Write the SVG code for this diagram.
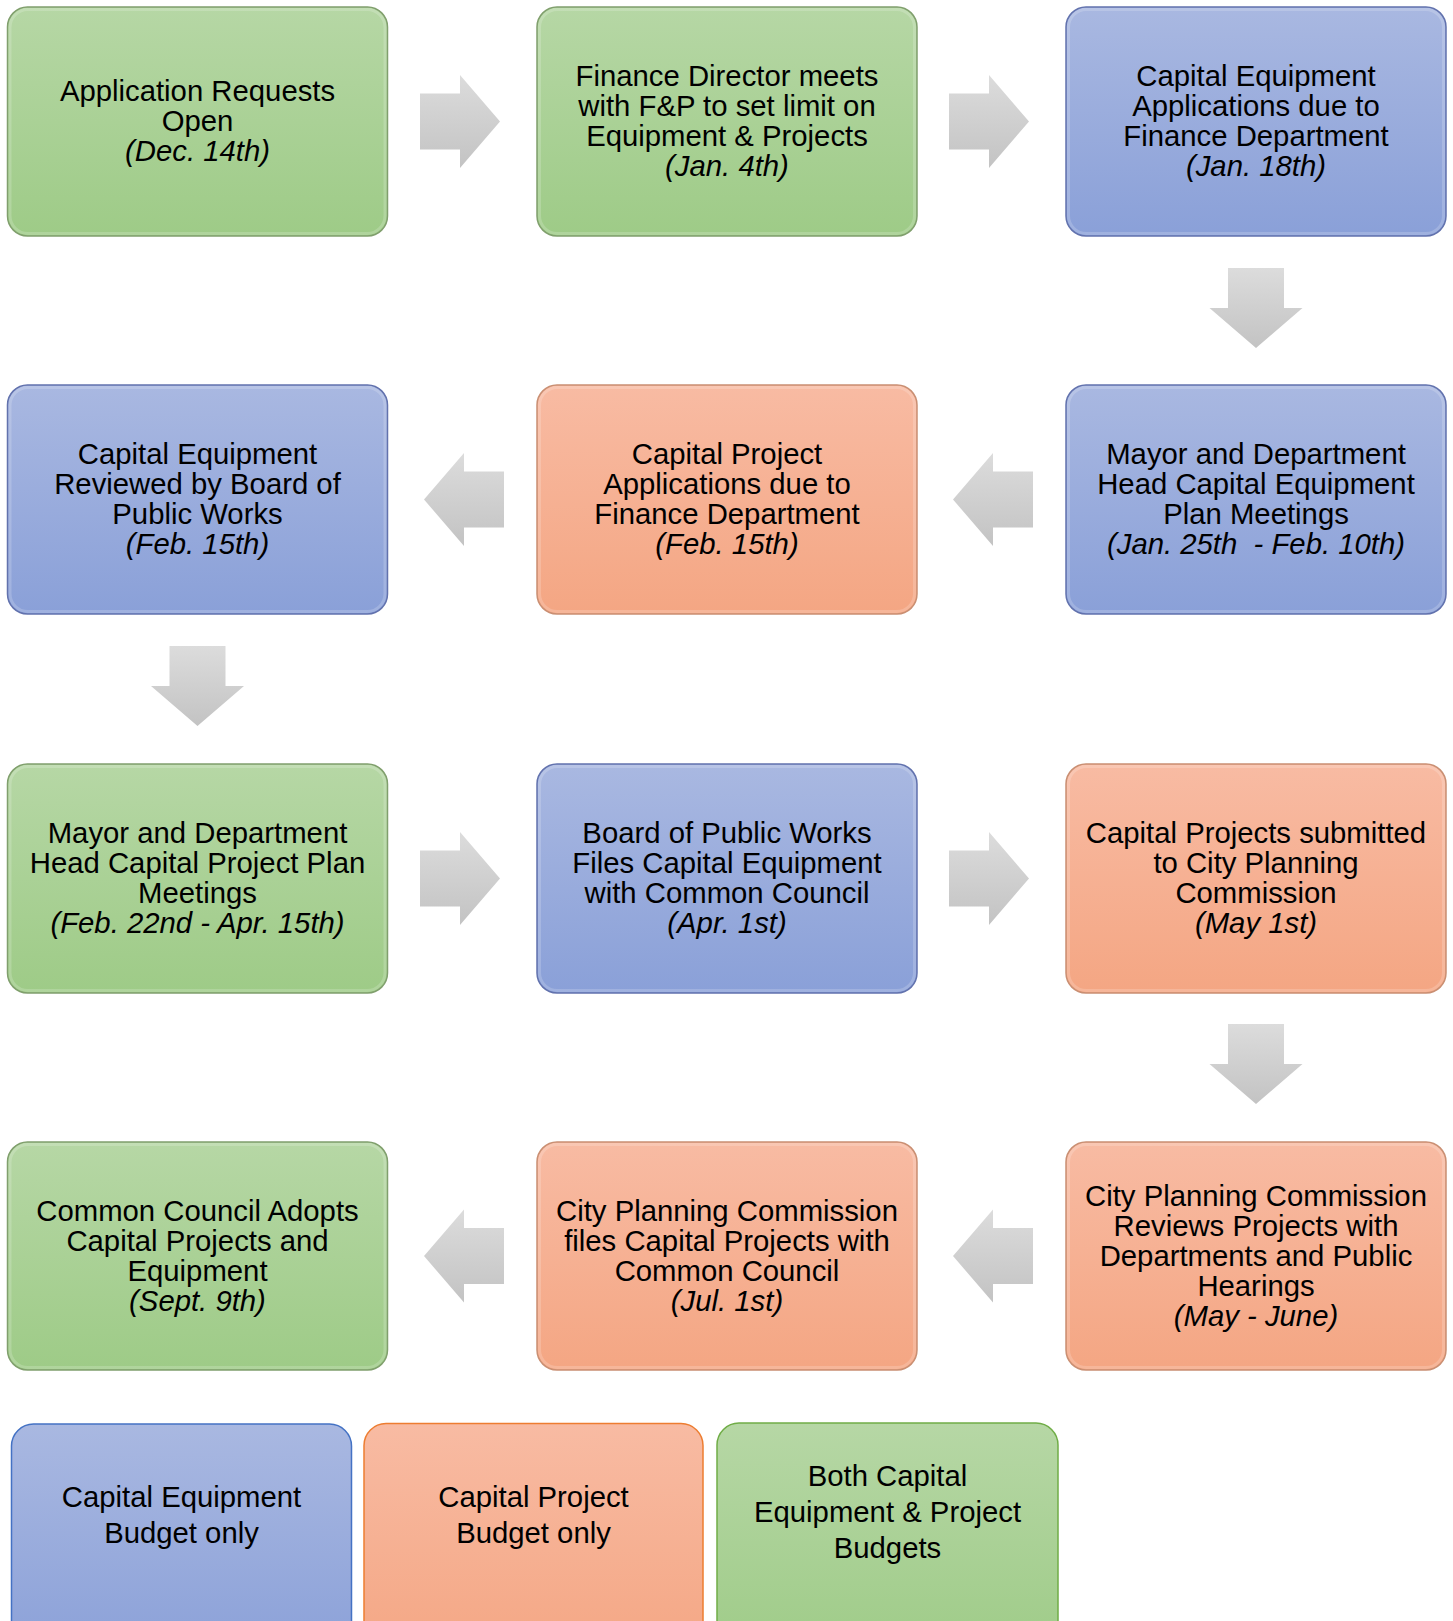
<svg xmlns="http://www.w3.org/2000/svg" width="1453" height="1621" viewBox="0 0 1453 1621">
<defs>
<linearGradient id="gG" x1="0" y1="0" x2="0" y2="1"><stop offset="0" stop-color="#b6d7a5"/><stop offset="1" stop-color="#9ecb87"/></linearGradient>
<linearGradient id="gB" x1="0" y1="0" x2="0" y2="1"><stop offset="0" stop-color="#a9b8e1"/><stop offset="1" stop-color="#8aa0d8"/></linearGradient>
<linearGradient id="gO" x1="0" y1="0" x2="0" y2="1"><stop offset="0" stop-color="#f8bba3"/><stop offset="1" stop-color="#f4a683"/></linearGradient>
<linearGradient id="gA" x1="0" y1="0" x2="0" y2="1"><stop offset="0" stop-color="#dcdcdc"/><stop offset="1" stop-color="#c3c3c3"/></linearGradient>
<style>
.n{stroke-width:1.5}
.g{fill:url(#gG);stroke:#809f6d}
.b{fill:url(#gB);stroke:#6272ad}
.o{fill:url(#gO);stroke:#c98f73}
.rim{fill:none;stroke:#ffffff;stroke-opacity:0.18;stroke-width:3}
.lb{fill:url(#gB);stroke:#4472c4}
.lo{fill:url(#gO);stroke:#ed7d31}
.lg{fill:url(#gG);stroke:#70ad47}
text{font-family:"Liberation Sans",Arial,sans-serif;font-size:29.3px;fill:#000;text-anchor:middle;white-space:pre}
.i{font-style:italic}
.arr{fill:url(#gA);stroke:none}
</style>
</defs>

<g id="connectors">
<path class="arr" transform="translate(420,121.5)" d="M0,-28H40V-46.5L80,0L40,46.5V28H0Z"/>
<path class="arr" transform="translate(949,121.5)" d="M0,-28H40V-46.5L80,0L40,46.5V28H0Z"/>
<path class="arr" transform="translate(1256,268)" d="M-28,0H28V40H46.5L0,80L-46.5,40H-28Z"/>
<path class="arr" transform="translate(953,499.5)" d="M0,0L40,-46.5V-28H80V28H40V46.5Z"/>
<path class="arr" transform="translate(424,499.5)" d="M0,0L40,-46.5V-28H80V28H40V46.5Z"/>
<path class="arr" transform="translate(197.5,646)" d="M-28,0H28V40H46.5L0,80L-46.5,40H-28Z"/>
<path class="arr" transform="translate(420,878.5)" d="M0,-28H40V-46.5L80,0L40,46.5V28H0Z"/>
<path class="arr" transform="translate(949,878.5)" d="M0,-28H40V-46.5L80,0L40,46.5V28H0Z"/>
<path class="arr" transform="translate(1256,1024)" d="M-28,0H28V40H46.5L0,80L-46.5,40H-28Z"/>
<path class="arr" transform="translate(953,1256)" d="M0,0L40,-46.5V-28H80V28H40V46.5Z"/>
<path class="arr" transform="translate(424,1256)" d="M0,0L40,-46.5V-28H80V28H40V46.5Z"/>
</g>

<g id="n1"><rect class="n g" x="7.5" y="7" width="380" height="229" rx="20"/><rect class="rim" x="10" y="9.5" width="375" height="224" rx="18"/>
<text x="197.5" y="101">Application Requests</text><text x="197.5" y="131">Open</text><text class="i" x="197.5" y="161">(Dec. 14th)</text></g>

<g id="n2"><rect class="n g" x="537" y="7" width="380" height="229" rx="20"/><rect class="rim" x="539.5" y="9.5" width="375" height="224" rx="18"/>
<text x="727" y="86">Finance Director meets</text><text x="727" y="116">with F&amp;P to set limit on</text><text x="727" y="146">Equipment &amp; Projects</text><text class="i" x="727" y="176">(Jan. 4th)</text></g>

<g id="n3"><rect class="n b" x="1066" y="7" width="380" height="229" rx="20"/><rect class="rim" x="1068.5" y="9.5" width="375" height="224" rx="18"/>
<text x="1256" y="86">Capital Equipment</text><text x="1256" y="116">Applications due to</text><text x="1256" y="146">Finance Department</text><text class="i" x="1256" y="176">(Jan. 18th)</text></g>

<g id="n4"><rect class="n b" x="1066" y="385" width="380" height="229" rx="20"/><rect class="rim" x="1068.5" y="387.5" width="375" height="224" rx="18"/>
<text x="1256" y="464">Mayor and Department</text><text x="1256" y="494">Head Capital Equipment</text><text x="1256" y="524">Plan Meetings</text><text class="i" x="1256" y="554">(Jan. 25th  - Feb. 10th)</text></g>

<g id="n5"><rect class="n o" x="537" y="385" width="380" height="229" rx="20"/><rect class="rim" x="539.5" y="387.5" width="375" height="224" rx="18"/>
<text x="727" y="464">Capital Project</text><text x="727" y="494">Applications due to</text><text x="727" y="524">Finance Department</text><text class="i" x="727" y="554">(Feb. 15th)</text></g>

<g id="n6"><rect class="n b" x="7.5" y="385" width="380" height="229" rx="20"/><rect class="rim" x="10" y="387.5" width="375" height="224" rx="18"/>
<text x="197.5" y="464">Capital Equipment</text><text x="197.5" y="494">Reviewed by Board of</text><text x="197.5" y="524">Public Works</text><text class="i" x="197.5" y="554">(Feb. 15th)</text></g>

<g id="n7"><rect class="n g" x="7.5" y="764" width="380" height="229" rx="20"/><rect class="rim" x="10" y="766.5" width="375" height="224" rx="18"/>
<text x="197.5" y="843">Mayor and Department</text><text x="197.5" y="873">Head Capital Project Plan</text><text x="197.5" y="903">Meetings</text><text class="i" x="197.5" y="933">(Feb. 22nd - Apr. 15th)</text></g>

<g id="n8"><rect class="n b" x="537" y="764" width="380" height="229" rx="20"/><rect class="rim" x="539.5" y="766.5" width="375" height="224" rx="18"/>
<text x="727" y="843">Board of Public Works</text><text x="727" y="873">Files Capital Equipment</text><text x="727" y="903">with Common Council</text><text class="i" x="727" y="933">(Apr. 1st)</text></g>

<g id="n9"><rect class="n o" x="1066" y="764" width="380" height="229" rx="20"/><rect class="rim" x="1068.5" y="766.5" width="375" height="224" rx="18"/>
<text x="1256" y="843">Capital Projects submitted</text><text x="1256" y="873">to City Planning</text><text x="1256" y="903">Commission</text><text class="i" x="1256" y="933">(May 1st)</text></g>

<g id="n10"><rect class="n o" x="1066" y="1142" width="380" height="228" rx="20"/><rect class="rim" x="1068.5" y="1144.5" width="375" height="223" rx="18"/>
<text x="1256" y="1205.5">City Planning Commission</text><text x="1256" y="1235.5">Reviews Projects with</text><text x="1256" y="1265.5">Departments and Public</text><text x="1256" y="1295.5">Hearings</text><text class="i" x="1256" y="1325.5">(May - June)</text></g>

<g id="n11"><rect class="n o" x="537" y="1142" width="380" height="228" rx="20"/><rect class="rim" x="539.5" y="1144.5" width="375" height="223" rx="18"/>
<text x="727" y="1220.5">City Planning Commission</text><text x="727" y="1250.5">files Capital Projects with</text><text x="727" y="1280.5">Common Council</text><text class="i" x="727" y="1310.5">(Jul. 1st)</text></g>

<g id="n12"><rect class="n g" x="7.5" y="1142" width="380" height="228" rx="20"/><rect class="rim" x="10" y="1144.5" width="375" height="223" rx="18"/>
<text x="197.5" y="1220.5">Common Council Adopts</text><text x="197.5" y="1250.5">Capital Projects and</text><text x="197.5" y="1280.5">Equipment</text><text class="i" x="197.5" y="1310.5">(Sept. 9th)</text></g>

<g id="legend-equipment"><rect class="n lb" x="11.5" y="1424" width="340" height="240" rx="22"/>
<text x="181.5" y="1507">Capital Equipment</text><text x="181.5" y="1543">Budget only</text></g>

<g id="legend-project"><rect class="n lo" x="364" y="1423.5" width="339" height="240" rx="22"/>
<text x="533.5" y="1507">Capital Project</text><text x="533.5" y="1543">Budget only</text></g>

<g id="legend-both"><rect class="n lg" x="717" y="1423" width="341" height="240" rx="22"/>
<text x="887.5" y="1486">Both Capital</text><text x="887.5" y="1522">Equipment &amp; Project</text><text x="887.5" y="1558">Budgets</text></g>
</svg>
